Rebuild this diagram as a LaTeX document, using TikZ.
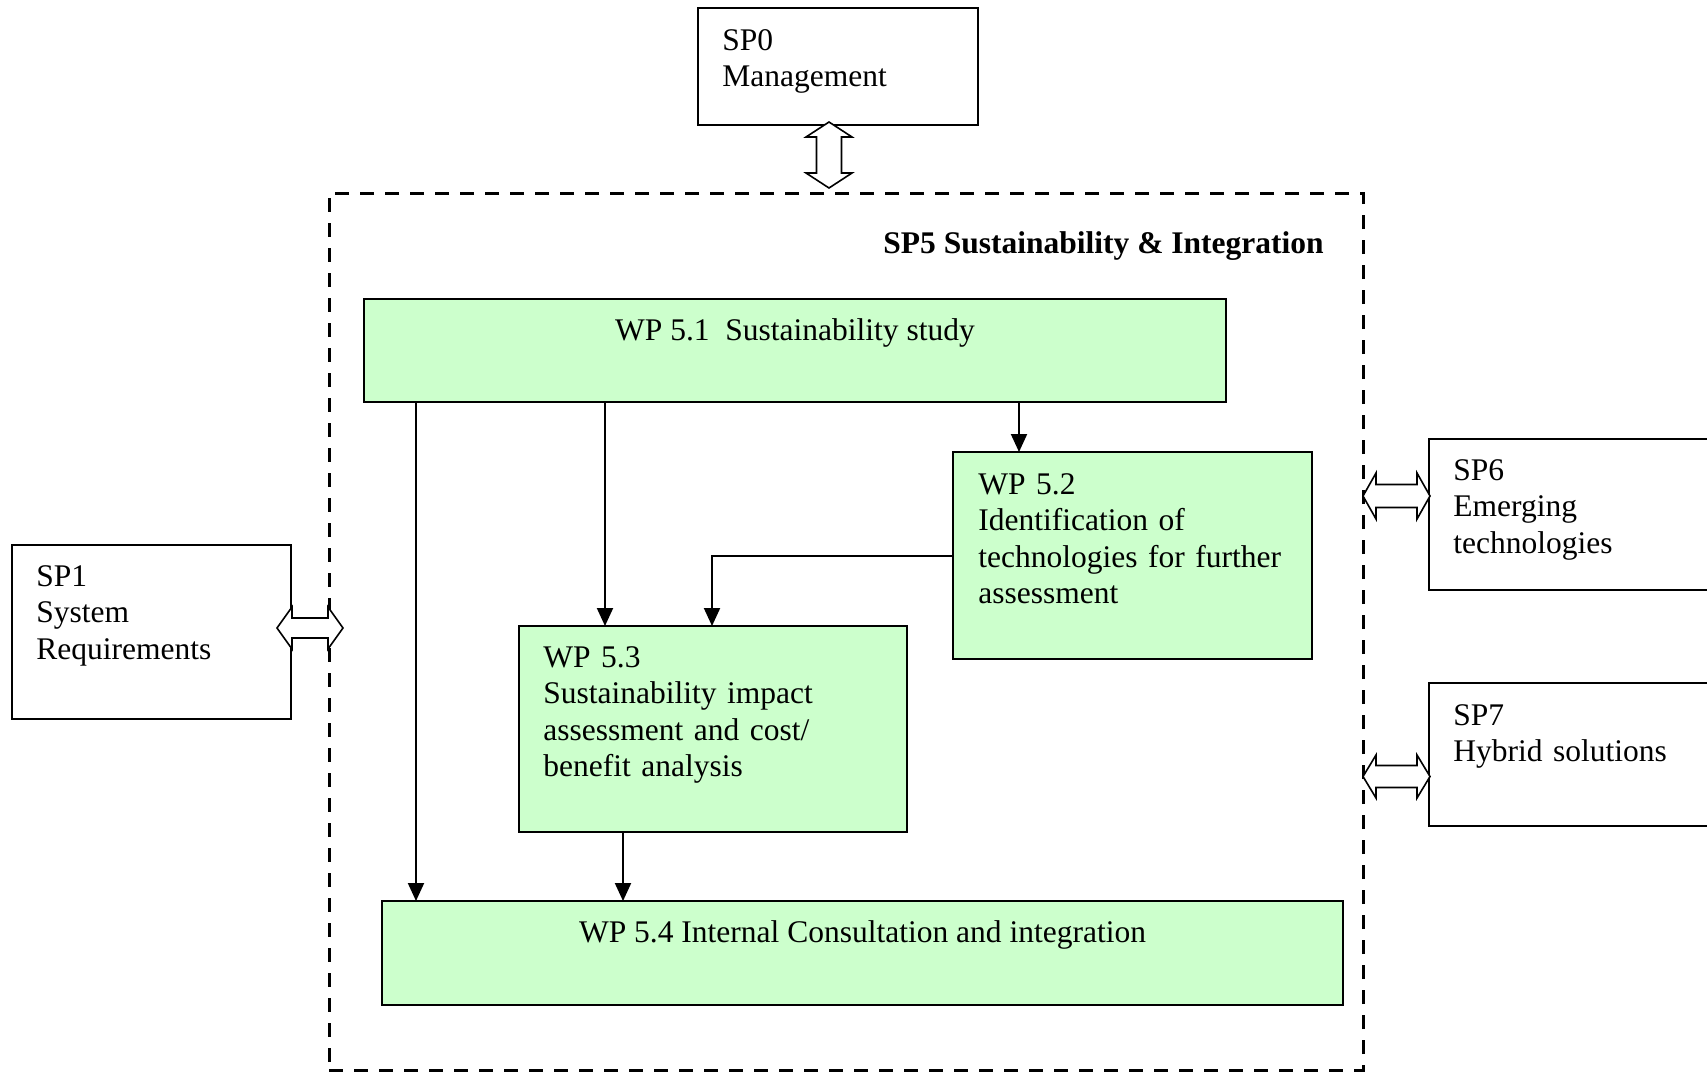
\documentclass[tikz,border=0pt]{standalone}
\usepackage{fontspec}
\setmainfont{Liberation Serif}
\usetikzlibrary{arrows.meta,calc}
\definecolor{wpgreen}{HTML}{CCFFCC}
\newcommand\DblArr[6]{\begin{scope}[shift={(#1)},rotate=#6]
\draw[dbl] (-#2,0) -- (-#2+#3,-#4) -- (-#2+#3,-#5) -- (#2-#3,-#5) -- (#2-#3,-#4) -- (#2,0) -- (#2-#3,#4) -- (#2-#3,#5) -- (-#2+#3,#5) -- (-#2+#3,#4) -- cycle;\end{scope}}
\tikzset{
  sbox/.style={draw=black,line width=0.8pt,anchor=north west,inner sep=0pt,outer sep=0pt},
  wpbox/.style={sbox,fill=wpgreen},
  txtfont/.style={font=\fontsize{15.75}{18.25}\selectfont},
  txt/.style={txtfont,anchor=base west,inner sep=0pt,align=left,text width=200pt},
  ctxt/.style={txtfont,anchor=base,inner sep=0pt},
  arr/.style={line width=1pt,-{Triangle[length=9pt,width=8pt]}},
  dbl/.style={draw=black,fill=white,line width=0.8pt,line join=miter},
  sp5box/.style={draw=black,line width=1.5pt,dash pattern=on 7pt off 5.5pt,anchor=north west,inner sep=0pt,outer sep=0pt}
}
\begin{document}
\begin{tikzpicture}[x=0.5pt,y=-0.5pt]
\useasboundingbox (0,0) rectangle (1707,1072);
% outer boxes
\node[sbox,minimum width=140pt,minimum height=58.5pt] (sp0) at (698,8) {};
\node[txt] (sp0t) at ($(sp0.north west)+(24,42)$) {SP0\\Management};
\node[sbox,minimum width=139.5pt,minimum height=87pt] (sp1) at (12,545) {};
\node[txt] (sp1t) at ($(sp1.north west)+(24,41)$) {SP1\\System\\Requirements};
\node[sbox,minimum width=141.5pt,minimum height=75.5pt] (sp6) at (1429,439) {};
\node[txt] (sp6t) at ($(sp6.north west)+(24,41)$) {SP6\\Emerging\\technologies};
\node[sbox,minimum width=141.5pt,minimum height=71.5pt] (sp7) at (1429,683) {};
\node[txt] (sp7t) at ($(sp7.north west)+(24,42)$) {SP7\\Hybrid solutions};
% SP5 dashed
\node[sp5box,minimum width=517pt,minimum height=438.5pt] (sp5) at (329,193) {};
\node[txtfont,anchor=base east,inner sep=0pt,font=\fontsize{15.75}{18.25}\selectfont\bfseries] (sp5t) at ($(sp5.north east)+(-39,60)$) {SP5 Sustainability \& Integration};
% WP boxes
\node[wpbox,minimum width=431pt,minimum height=51.5pt] (wp51) at (364,299) {};
\node[ctxt] (wp51t) at ($(wp51.north)+(0,41)$) {WP 5.1~~Sustainability study};
\node[wpbox,minimum width=179.5pt,minimum height=103.5pt] (wp52) at (953,452) {};
\node[txt] (wp52t) at ($(wp52.north west)+(25,42)$) {WP 5.2\\Identification of\\technologies for further\\assessment};
\node[wpbox,minimum width=194pt,minimum height=103pt] (wp53) at (519,626) {};
\node[txt] (wp53t) at ($(wp53.north west)+(24,41)$) {WP 5.3\\Sustainability impact\\assessment and cost/\\benefit analysis};
\node[wpbox,minimum width=480.5pt,minimum height=52pt] (wp54) at (382,901) {};
\node[ctxt] (wp54t) at ($(wp54.north)+(0,41)$) {WP 5.4 Internal Consultation and integration};
% connectors
\coordinate (a1) at ($(wp51.south west)+(52,0)$);
\coordinate (a2) at ($(wp51.south west)+(241,0)$);
\coordinate (a3) at ($(wp51.south west)+(655,0)$);
\coordinate (a4) at ($(wp53.north west)+(193,0)$);
\coordinate (a5) at ($(wp53.south west)+(104,0)$);
\draw[arr] (a1) -- (a1 |- wp54.north);
\draw[arr] (a2) -- (a2 |- wp53.north);
\draw[arr] (a3) -- (a3 |- wp52.north);
\draw[arr] (wp52.west) -| (a4);
\draw[arr] (a5) -- (a5 |- wp54.north);
% double arrows
\coordinate (d0) at ($(sp0.south west)+(131,30)$);
\coordinate (d1) at ($(sp1.east)+(19,-4)$);
\coordinate (d6) at ($(sp6.west)+(-32.5,-18.5)$);
\coordinate (d7) at ($(sp7.west)+(-32.5,22)$);
\DblArr{d0}{33}{15}{23}{12.5}{90}
\DblArr{d1}{33}{15}{21}{10}{0}
\DblArr{d6}{33.5}{13}{23}{11.5}{0}
\DblArr{d7}{33.5}{13}{21.5}{11}{0}
\end{tikzpicture}
\end{document}
